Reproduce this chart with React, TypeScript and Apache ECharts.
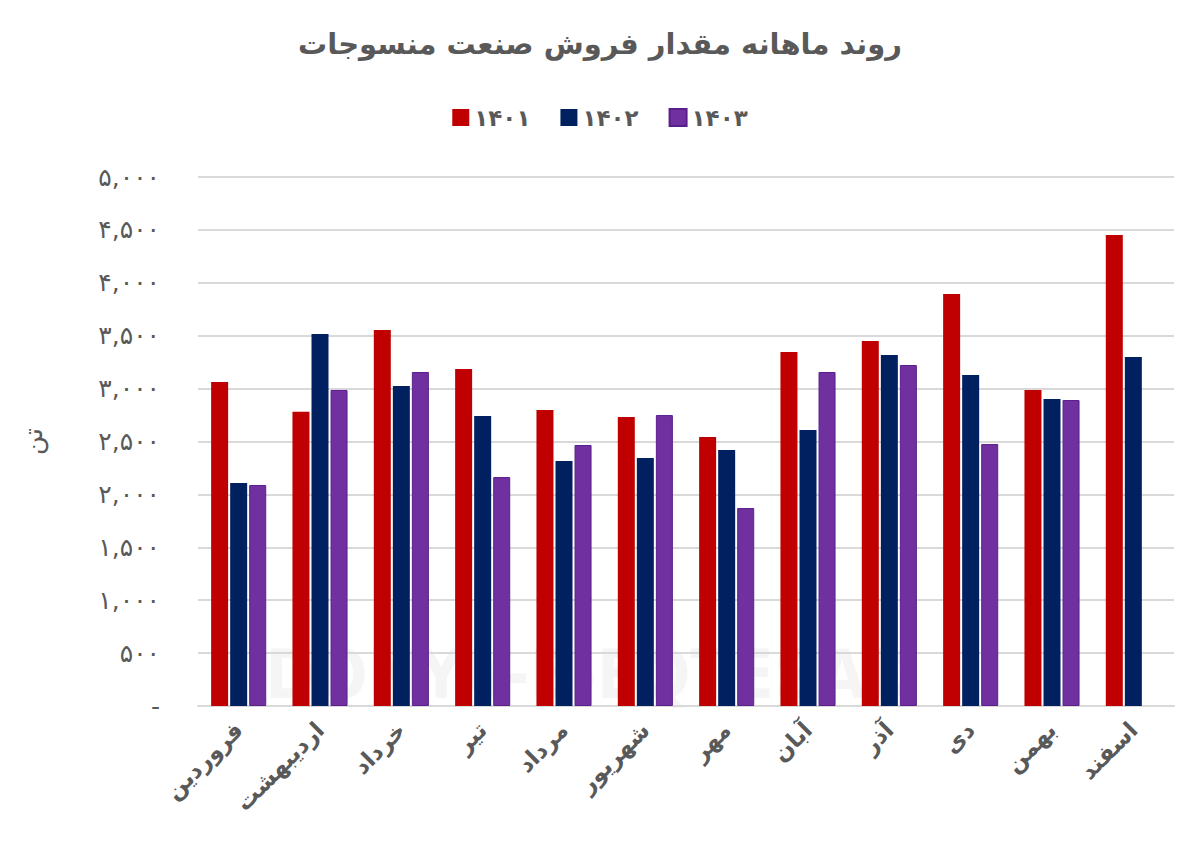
import React, { useEffect, useRef } from "react";
import * as echarts from "echarts";

const months = ["فروردین", "اردیبهشت", "خرداد", "تیر", "مرداد", "شهریور", "مهر", "آبان", "آذر", "دی", "بهمن", "اسفند"];
const seriesNames = ["۱۴۰۱", "۱۴۰۲", "۱۴۰۳"];
const s1401 = [3062, 2782, 3554, 3185, 2798, 2732, 2542, 3346, 3450, 3894, 2987, 4452];
const s1402 = [2108, 3516, 3025, 2741, 2316, 2344, 2420, 2609, 3317, 3128, 2902, 3299];
const s1403: (number | null)[] = [2089, 2987, 3157, 2164, 2467, 2750, 1871, 3157, 3223, 2476, 2892, null];
const colors = ["#C00000", "#002060", "#7030A0"];
const borderColors = ["#C00000", "#002060", "#5B1F8C"];

const toFa = (s: string) => s.replace(/[0-9]/g, (d) => "۰۱۲۳۴۵۶۷۸۹"[Number(d)]);
const fmt = (v: number) => (v === 0 ? "-" : toFa(v.toLocaleString("en-US")));

const FONT = "'DejaVu Sans', sans-serif";
const GRAY = "#595959";

export default function App() {
  const ref = useRef<HTMLDivElement>(null);
  useEffect(() => {
    if (!ref.current) return;
    const chart = echarts.init(ref.current, undefined, { renderer: "svg" });
    const data = [s1401, s1402, s1403];
    chart.setOption({
      animation: false,
      backgroundColor: "#ffffff",
      title: {
        text: "روند ماهانه مقدار فروش صنعت منسوجات",
        left: "center",
        top: 24,
        textStyle: { fontFamily: FONT, fontSize: 29, fontWeight: "bold", color: GRAY },
      },
      legend: {
        data: seriesNames,
        top: 101,
        left: "center",
        itemWidth: 17,
        itemHeight: 17,
        itemGap: 30,
        icon: "rect",
        textStyle: { fontFamily: FONT, fontSize: 23, color: GRAY, fontWeight: "bold" },
      },
      graphic: [
        {
          type: "text",
          left: 265,
          top: 640,
          z: 0,
          silent: true,
          style: {
            text: "DONYA-E-EQTESAD",
            font: "bold 68px 'DejaVu Sans Condensed', sans-serif",
            fill: "rgba(0,0,0,0.04)",
          },
        },
      ],
      grid: { left: 198, right: 26, top: 177, bottom: 138, containLabel: false },
      xAxis: {
        type: "category",
        data: months,
        axisLine: { show: true, lineStyle: { color: "#d9d9d9", width: 2 } },
        axisTick: { show: false },
        axisLabel: {
          rotate: 45,
          interval: 0,
          margin: 20,
          fontFamily: FONT,
          fontSize: 23,
          fontWeight: "bold",
          color: GRAY,
        },
      },
      yAxis: {
        type: "value",
        min: 0,
        max: 5000,
        interval: 500,
        name: "تن",
        nameLocation: "middle",
        nameRotate: 90,
        nameGap: 152,
        nameTextStyle: { fontFamily: FONT, fontSize: 26, color: GRAY },
        axisLine: { show: false },
        axisTick: { show: false },
        splitLine: { lineStyle: { color: "#d9d9d9", width: 2 } },
        axisLabel: {
          margin: 38,
          fontFamily: FONT,
          fontSize: 25,
          color: GRAY,
          formatter: (v: number) => fmt(v),
        },
      },
      series: seriesNames.map((name, i) => ({
        name,
        type: "bar",
        data: data[i],
        barWidth: 17,
        barGap: "12%",
        itemStyle: { color: colors[i], borderColor: borderColors[i], borderWidth: i === 2 ? 1 : 0 },
        z: 2,
      })),
    });
    return () => chart.dispose();
  }, []);
  return (
    <div
      ref={ref}
      style={{ position: "absolute", left: 0, top: 0, width: 1200, height: 844 }}
    />
  );
}
